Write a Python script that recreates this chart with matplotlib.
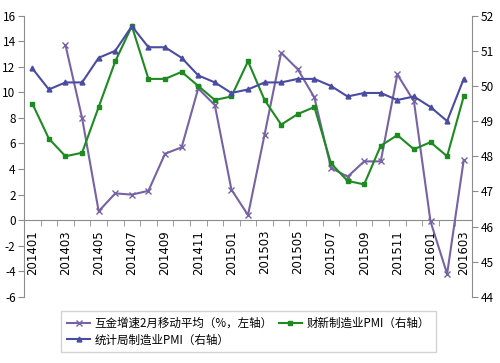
import numpy as np
import matplotlib
matplotlib.use('Agg')
import matplotlib.pyplot as plt

plt.rcParams['font.family'] = ['Noto Sans CJK SC', 'DejaVu Sans']
plt.rcParams['axes.unicode_minus'] = False

# ---------------------------- data ----------------------------
months = ['201401', '201402', '201403', '201404', '201405', '201406', '201407', '201408', '201409',
          '201410', '201411', '201412', '201501', '201502', '201503', '201504', '201505', '201506',
          '201507', '201508', '201509', '201510', '201511', '201512', '201601', '201602', '201603']
# interbank growth, 2-month moving average (left axis), starts at 201403
interbank = [np.nan, np.nan, 13.7, 8.0, 0.7, 2.1, 2.0, 2.3, 5.2, 5.7, 10.3, 9.0, 2.4, 0.4,
             6.7, 13.1, 11.8, 9.6, 4.1, 3.4, 4.6, 4.6, 11.4, 9.3, -0.1, -4.2, 4.7]
# Caixin manufacturing PMI (right axis)
caixin_pmi = [49.5, 48.5, 48.0, 48.1, 49.4, 50.7, 51.7, 50.2, 50.2, 50.4, 50.0, 49.6, 49.7, 50.7,
              49.6, 48.9, 49.2, 49.4, 47.8, 47.3, 47.2, 48.3, 48.6, 48.2, 48.4, 48.0, 49.7]
# NBS manufacturing PMI (right axis)
nbs_pmi = [50.5, 49.9, 50.1, 50.1, 50.8, 51.0, 51.7, 51.1, 51.1, 50.8, 50.3, 50.1, 49.8, 49.9,
           50.1, 50.1, 50.2, 50.2, 50.0, 49.7, 49.8, 49.8, 49.6, 49.7, 49.4, 49.0, 50.2]

label_interbank = '互金增速2月移动平均（%，左轴）'
label_caixin = '财新制造业PMI（右轴）'
label_nbs = '统计局制造业PMI（右轴）'

c_purple = '#7762A6'
c_green = '#1E8A22'
c_blue = '#4A4CA2'
c_axis = '#8c8c8c'

# ---------------------------- plot ----------------------------
fig = plt.figure(figsize=(5.0, 3.63), dpi=100)
ax = fig.add_axes([0.048, 0.182, 0.896, 0.775])
ax2 = ax.twinx()

x = np.arange(len(months))
l1, = ax.plot(x, interbank, color=c_purple, lw=1.5, marker='x', ms=5, mew=1.0,
              label=label_interbank, zorder=3)
l2, = ax2.plot(x, caixin_pmi, color=c_green, lw=1.5, marker='s', ms=2.8,
               label=label_caixin, zorder=2)
l3, = ax2.plot(x, nbs_pmi, color=c_blue, lw=1.5, marker='^', ms=3.5,
               label=label_nbs, zorder=2)

ax.set_xlim(-0.5, len(months) - 0.5)
ax.set_ylim(-6, 16)
ax.set_yticks(np.arange(-6, 17, 2))
ax2.set_ylim(44, 52)
ax2.set_yticks(np.arange(44, 53, 1))

# category axis crossing at 0
ax.spines['bottom'].set_position(('data', 0))
for s in ['top', 'right']:
    ax.spines[s].set_visible(False)
for s in ['top', 'left', 'bottom']:
    ax2.spines[s].set_visible(False)
ax.spines['left'].set_color(c_axis)
ax.spines['bottom'].set_color(c_axis)
ax2.spines['right'].set_color(c_axis)

ax.set_xticks(x[::2])
ax.set_xticklabels(months[::2], rotation=90, fontsize=8.5, family='DejaVu Sans')
ax.set_xticks(np.arange(-0.5, len(months), 1), minor=True)
ax.tick_params(axis='x', which='major', length=0, pad=7)
ax.tick_params(axis='x', which='minor', length=4, color=c_axis, direction='out')
ax.tick_params(axis='y', length=4, color=c_axis, labelsize=8.5, pad=2)
ax2.tick_params(axis='y', length=4, color=c_axis, labelsize=8.5, pad=2)

fig.legend(handles=[l1, l3, l2], ncol=2, loc='center', bbox_to_anchor=(0.497, 0.086),
           fontsize=8.3, frameon=True, fancybox=False, edgecolor='#c8c8c8',
           handlelength=2.0, handletextpad=0.4, columnspacing=0.5, labelspacing=0.3,
           borderpad=0.5)

plt.savefig('out.png', dpi=100)
